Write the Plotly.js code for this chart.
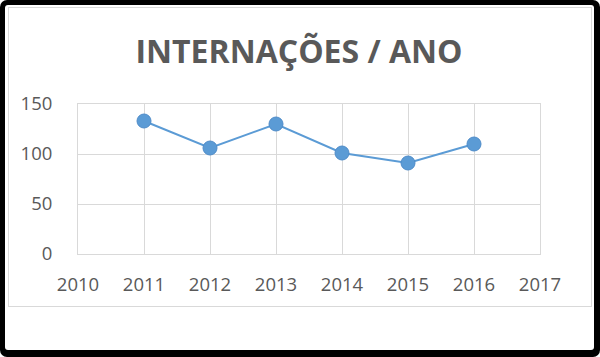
<!DOCTYPE html>
<html>
<head>
<meta charset="utf-8">
<script src="https://cdn.plot.ly/plotly-3.0.1.min.js"></script>
<style>
  html, body { margin:0; padding:0; background:#fff; }
  #frame { position:absolute; left:0; top:0; width:600px; height:357px; background:#000; border-radius:7px; }
  #inner { position:absolute; left:5px; top:5px; width:589px; height:345px; background:#fff; border-radius:3px; }
  #chartbox { position:absolute; left:8px; top:7px; width:584px; height:300px; border:1px solid #d9d9d9; box-sizing:border-box; background:#fff; }
  #chart { position:absolute; left:0; top:0; width:600px; height:357px; }
</style>
</head>
<body>
<div id="frame"></div>
<div id="inner"></div>
<div id="chartbox"></div>
<div id="chart"></div>
<script>
const years = [2011, 2012, 2013, 2014, 2015, 2016];
const internacoes = [133, 106, 130, 101, 91, 110];
const xTicks = [2010, 2011, 2012, 2013, 2014, 2015, 2016, 2017];
const yTicks = [0, 50, 100, 150];

const blue = '#5b9bd5';
const grey = '#595959';
const font = '"Open Sans", sans-serif';

const trace = {
  x: years, y: internacoes, type: 'scatter', mode: 'lines+markers',
  line: { color: blue, width: 2 },
  marker: { color: blue, size: 14, line: { color: '#4f8cc9', width: 1 } },
  hoverinfo: 'x+y'
};

const layout = {
  width: 600, height: 357,
  paper_bgcolor: 'rgba(0,0,0,0)', plot_bgcolor: 'rgba(0,0,0,0)',
  margin: { l: 78, r: 60, t: 104, b: 103, pad: 0 },
  showlegend: false,
  title: {
    text: '<b>INTERNAÇÕES / ANO</b>',
    font: { family: font, size: 32, color: grey },
    x: 299/600, xanchor: 'center', y: 1 - 52/357, yanchor: 'middle'
  },
  xaxis: {
    range: [2010, 2017], tickvals: xTicks, ticktext: xTicks.map(String),
    showgrid: true, gridcolor: '#d9d9d9', gridwidth: 1,
    showline: true, linecolor: '#d9d9d9', linewidth: 1, mirror: true,
    zeroline: false, ticks: 'outside', ticklen: 14, tickcolor: 'rgba(0,0,0,0)',
    tickfont: { family: font, size: 18.5, color: grey }, fixedrange: true
  },
  yaxis: {
    range: [0, 150], tickvals: yTicks,
    showgrid: true, gridcolor: '#d9d9d9', gridwidth: 1,
    showline: true, linecolor: '#d9d9d9', linewidth: 1, mirror: true,
    zeroline: false, ticks: 'outside', ticklen: 21, tickcolor: 'rgba(0,0,0,0)',
    tickfont: { family: font, size: 18.5, color: grey }, fixedrange: true
  }
};

Plotly.newPlot('chart', [trace], layout, { displayModeBar: false, staticPlot: true });
</script>
</body>
</html>
